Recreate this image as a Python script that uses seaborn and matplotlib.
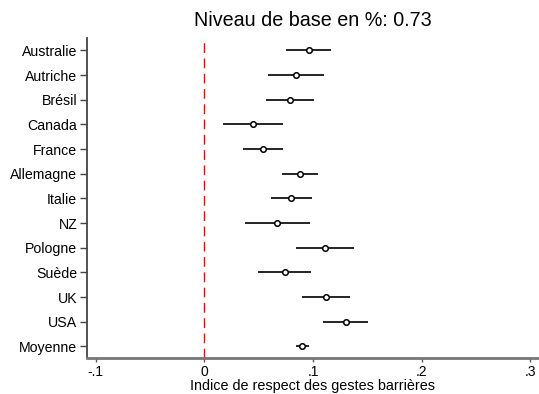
import numpy as np
import pandas as pd
import matplotlib
matplotlib.use("Agg")
import matplotlib.pyplot as plt
import seaborn as sns

pays = ["Australie", "Autriche", "Brésil", "Canada", "France", "Allemagne",
        "Italie", "NZ", "Pologne", "Suède", "UK", "USA", "Moyenne"]
coef = [0.096, 0.0846, 0.0785, 0.0445, 0.0537, 0.0877,
        0.0794, 0.0672, 0.1113, 0.0739, 0.112, 0.130, 0.090]
ci_lo = [0.0754, 0.0589, 0.0567, 0.0172, 0.0353, 0.0715,
         0.061, 0.0371, 0.0846, 0.0497, 0.0902, 0.1095, 0.084]
ci_hi = [0.117, 0.110, 0.1009, 0.072, 0.0727, 0.1043,
         0.0988, 0.0972, 0.138, 0.0978, 0.134, 0.1506, 0.0966]
xticks = [-0.1, 0, 0.1, 0.2, 0.3]
xticklabels = ["-.1", "0", ".1", ".2", ".3"]

df = pd.DataFrame({"pays": pays, "coef": coef, "lo": ci_lo, "hi": ci_hi})

sns.set_theme(style="white", rc={"text.color": "black", "axes.labelcolor": "black",
                                 "xtick.color": "black", "ytick.color": "black"})
plt.rcParams["font.family"] = ["Liberation Sans", "DejaVu Sans"]

fig = plt.figure(figsize=(5.39, 3.94), dpi=100)
ax = fig.add_axes([0.1614, 0.0914, 0.8386, 0.812])

ypos = np.arange(len(pays))
ax.hlines(ypos, df["lo"], df["hi"], color="black", linewidth=1.2, zorder=2)
sns.scatterplot(x=df["coef"], y=ypos, ax=ax, marker="o", s=16,
                facecolor="white", edgecolor="black", linewidth=1.1, zorder=3)

ax.axvline(0, color="red", linestyle=(0, (7, 4)), linewidth=1.0, zorder=1)

ax.set_yticks(ypos)
ax.set_yticklabels(pays, fontsize=10.2)
ax.set_ylim(12.47, -0.5)
ax.set_xlim(-0.108, 0.308)
ax.set_xticks(xticks)
ax.set_xticklabels(xticklabels, fontsize=10)
ax.set_xlabel("Indice de respect des gestes barrières", fontsize=10.4, labelpad=0)
ax.set_ylabel("")
ax.set_title("Niveau de base en %: 0.73", fontsize=14.2, pad=9)

sns.despine(ax=ax)
ax.spines["left"].set_color("#444444")
ax.spines["left"].set_linewidth(1.3)
ax.spines["bottom"].set_color("#777777")
ax.spines["bottom"].set_linewidth(2)
ax.tick_params(axis="y", which="major", left=True, length=5, width=1, color="#444444", pad=2)
ax.tick_params(axis="x", which="major", bottom=True, length=3, width=1, color="#555555", pad=2)
ax.grid(False)

fig.savefig("out.png", dpi=100)
